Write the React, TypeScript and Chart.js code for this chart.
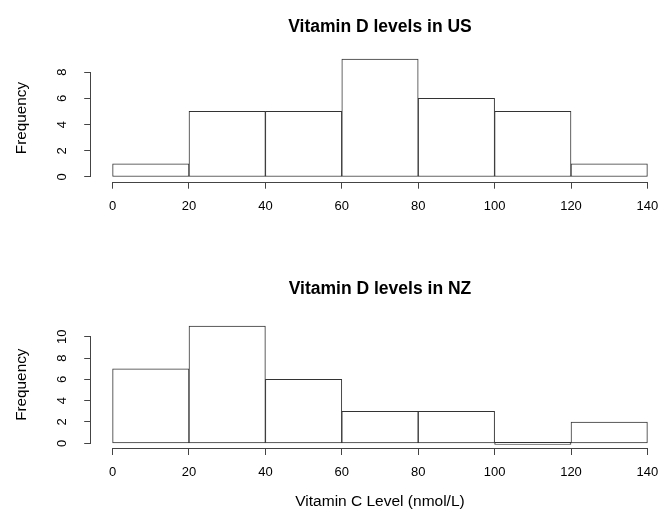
import React, { useEffect, useRef } from "react";
import { Chart, registerables } from "chart.js";

Chart.register(...registerables);

// ---- data ----
const breaks = [0, 20, 40, 60, 80, 100, 120, 140];
const usCounts = [1, 5, 5, 9, 6, 5, 1];
const nzCounts = [7, 11, 6, 3, 3, 0, 2];
const xTickValues = [0, 20, 40, 60, 80, 100, 120, 140];
const usYTicks = [0, 2, 4, 6, 8];
const nzYTicks = [0, 2, 4, 6, 8, 10];
const usTitle = "Vitamin D levels in US";
const nzTitle = "Vitamin D levels in NZ";
const yAxisTitle = "Frequency";
const xAxisTitle = "Vitamin C Level (nmol/L)";

const FONT = "'Liberation Sans', Arial, Helvetica, sans-serif";
const AXIS_COLOR = "#444";
const BAR_COLOR = "#333";

const rAxisLines = {
  id: "rAxisLines",
  afterDraw(chart: any) {
    const { ctx, chartArea, scales } = chart;
    const x = scales.x;
    const y = scales.y;
    const xt = x.ticks;
    const yt = y.ticks;
    ctx.save();
    ctx.strokeStyle = AXIS_COLOR;
    ctx.lineWidth = 1;
    ctx.beginPath();
    const yb = Math.round(chartArea.bottom) + 0.5;
    ctx.moveTo(x.getPixelForValue(xt[0].value), yb);
    ctx.lineTo(x.getPixelForValue(xt[xt.length - 1].value), yb);
    const xl = Math.round(chartArea.left) - 0.5;
    ctx.moveTo(xl, y.getPixelForValue(yt[0].value));
    ctx.lineTo(xl, y.getPixelForValue(yt[yt.length - 1].value));
    ctx.stroke();
    ctx.restore();
  },
};

type Area = { left: number; right: number; top: number; bottom: number };

function Histogram(props: {
  counts: number[];
  yTicks: number[];
  title: string;
  xLabel?: string;
  width: number;
  height: number;
  area: Area;
  titleCenterY: number;
  yTickPad: number;
  top: number;
}) {
  const ref = useRef<HTMLCanvasElement | null>(null);
  const { counts, yTicks, title, xLabel, width, height, area, titleCenterY, yTickPad } = props;

  useEffect(() => {
    if (!ref.current) return;
    const span = breaks[breaks.length - 1] - breaks[0];
    const xMin = breaks[0] - 0.04 * span;
    const xMax = breaks[breaks.length - 1] + 0.04 * span;
    const yTop = Math.max(...counts);
    const yMin = -0.04 * yTop;
    const yMax = yTop * 1.04;
    const titleSize = 17.5;
    const titleLH = titleSize * 1.2;
    const padTop = titleCenterY - titleLH / 2;
    const padBottom = area.top - padTop - titleLH;

    const chart = new Chart(ref.current, {
      type: "bar",
      data: {
        datasets: [
          {
            data: counts.map((c, i) => ({ x: (breaks[i] + breaks[i + 1]) / 2, y: c })),
            backgroundColor: "#ffffff",
            borderColor: BAR_COLOR,
            borderWidth: 1,
            borderSkipped: false,
            barPercentage: 1,
            categoryPercentage: 1,
            minBarLength: 2,
          } as any,
        ],
      },
      options: {
        responsive: false,
        animation: false,
        events: [],
        layout: { padding: { left: 0, top: 0, right: width - area.right, bottom: 0 } },
        plugins: {
          legend: { display: false },
          tooltip: { enabled: false },
          title: {
            display: true,
            text: title,
            fullSize: false,
            color: "#000",
            font: { family: FONT, size: titleSize, weight: "bold", lineHeight: 1.2 },
            padding: { top: padTop, bottom: padBottom },
          },
        },
        scales: {
          x: {
            type: "linear",
            min: xMin,
            max: xMax,
            offset: false,
            afterBuildTicks: (s: any) => {
              s.ticks = xTickValues.map((v) => ({ value: v }));
            },
            afterFit: (s: any) => {
              s.height = height - area.bottom;
            },
            grid: {
              display: true,
              drawOnChartArea: false,
              drawTicks: true,
              tickLength: 7,
              color: AXIS_COLOR,
              lineWidth: 1,
              offset: false,
            },
            border: { display: false },
            ticks: {
              color: "#000",
              font: { family: FONT, size: 13, lineHeight: 1.2 },
              padding: 10,
              autoSkip: false,
              minRotation: 0,
              maxRotation: 0,
              callback: (v: any) => String(v),
            },
            title: xLabel
              ? {
                  display: true,
                  text: xLabel,
                  color: "#000",
                  font: { family: FONT, size: 15.5, lineHeight: 1.2 },
                  padding: { top: 0, bottom: 0 },
                }
              : { display: false },
          },
          y: {
            type: "linear",
            min: yMin,
            max: yMax,
            afterBuildTicks: (s: any) => {
              s.ticks = yTicks.map((v) => ({ value: v }));
            },
            afterFit: (s: any) => {
              s.width = area.left;
            },
            grid: {
              display: true,
              drawOnChartArea: false,
              drawTicks: true,
              tickLength: 7,
              color: AXIS_COLOR,
              lineWidth: 1,
            },
            border: { display: false },
            ticks: {
              color: "#000",
              font: { family: FONT, size: 13, lineHeight: 1.2 },
              padding: yTickPad,
              autoSkip: false,
              minRotation: 90,
              maxRotation: 90,
              crossAlign: "center",
              callback: (v: any) => String(v),
            },
            title: {
              display: true,
              text: yAxisTitle,
              color: "#000",
              font: { family: FONT, size: 15.3, lineHeight: 1.2 },
              padding: { top: 13, bottom: 0 },
            },
          },
        },
      } as any,
      plugins: [rAxisLines],
    });
    return () => chart.destroy();
  }, []);

  return (
    <canvas
      ref={ref}
      width={width}
      height={height}
      style={{ position: "absolute", left: 0, top: props.top, width, height, display: "block" }}
    />
  );
}

export default function App() {
  return (
    <div
      style={{
        position: "absolute",
        left: 0,
        top: 0,
        width: 670,
        height: 511,
        background: "#fff",
        overflow: "hidden",
      }}
    >
      <Histogram
        counts={usCounts}
        yTicks={usYTicks}
        title={usTitle}
        width={670}
        height={255}
        top={0}
        area={{ left: 91.2, right: 668.8, top: 54.3, bottom: 181.7 }}
        titleCenterY={27}
        yTickPad={18.1}
      />
      <Histogram
        counts={nzCounts}
        yTicks={nzYTicks}
        title={nzTitle}
        xLabel={xAxisTitle}
        width={670}
        height={256}
        top={255}
        area={{ left: 91.2, right: 668.8, top: 66.4, bottom: 193 }}
        titleCenterY={34.5}
        yTickPad={14.5}
      />
    </div>
  );
}
